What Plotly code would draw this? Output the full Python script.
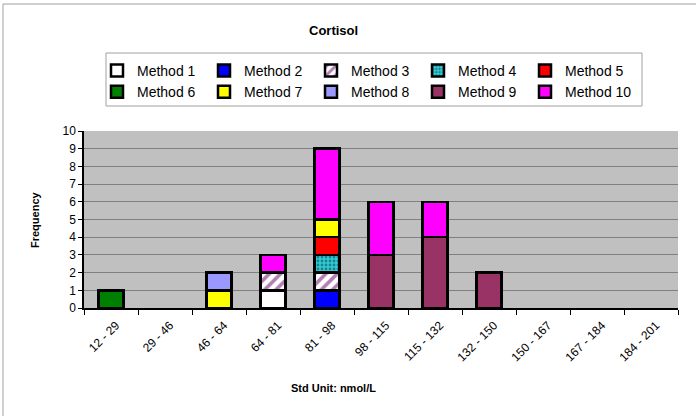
import plotly.graph_objects as go

categories = ["12 - 29", "29 - 46", "46 - 64", "64 - 81", "81 - 98", "98 - 115",
              "115 - 132", "132 - 150", "150 - 167", "167 - 184", "184 - 201"]

method_names = ["Method 1", "Method 2", "Method 3", "Method 4", "Method 5",
                "Method 6", "Method 7", "Method 8", "Method 9", "Method 10"]

m1 = [None, None, None, 1, None, None, None, None, None, None, None]
m2 = [None, None, None, None, 1, None, None, None, None, None, None]
m3 = [None, None, None, 1, 1, None, None, None, None, None, None]
m4 = [None, None, None, None, 1, None, None, None, None, None, None]
m5 = [None, None, None, None, 1, None, None, None, None, None, None]
m6 = [1, None, None, None, None, None, None, None, None, None, None]
m7 = [None, None, 1, None, 1, None, None, None, None, None, None]
m8 = [None, None, 1, None, None, None, None, None, None, None, None]
m9 = [None, None, None, None, None, 3, 4, 2, None, None, None]
m10 = [None, None, None, 1, 4, 3, 2, None, None, None, None]

series = [m1, m2, m3, m4, m5, m6, m7, m8, m9, m10]

colors = ["#FFFFFF", "#0000FF", "#FFFFFF", "#33CCCC", "#FF0000",
          "#008000", "#FFFF00", "#9999FF", "#993366", "#FF00FF"]

patterns = [None, None, dict(shape="/", fgcolor="#660066", bgcolor="#FFFFFF", size=8, solidity=0.45),
            dict(shape=".", fgcolor="#003366", bgcolor="#33CCCC", size=4, solidity=0.4),
            None, None, None, None, None, None]

FONT = "Liberation Sans, Arial, sans-serif"

fig = go.Figure()
for name, vals, col, pat in zip(method_names, series, colors, patterns):
    marker = dict(color=col, line=dict(color="#000000", width=2.5))
    if pat is not None:
        marker["pattern"] = pat
    fig.add_trace(go.Bar(x=categories, y=vals, name=name, marker=marker))

L, R, T, B = 84, 18, 131, 108
W, H = 696, 416
pw, ph = W - L - R, H - T - B


def px(x):
    return (x - L) / pw


def py(y):
    return (H - B - y) / ph


fig.update_layout(
    width=W, height=H,
    margin=dict(l=L, r=R, t=T, b=B, pad=0),
    barmode="stack",
    bargap=0.54,
    paper_bgcolor="#FFFFFF",
    plot_bgcolor="#C0C0C0",
    font=dict(family=FONT, size=11, color="#000000"),
    showlegend=True,
    legend=dict(
        orientation="h",
        xref="container", yref="container",
        x=97 / W, y=1 - 55 / H, xanchor="left", yanchor="top",
        borderwidth=0,
        bgcolor="rgba(0,0,0,0)",
        font=dict(family=FONT, size=14, color="#000000"),
        entrywidth=62, entrywidthmode="pixels",
        itemwidth=30,
        traceorder="normal",
    ),
    annotations=[
        dict(text="<b>Cortisol</b>", x=px(333), y=py(30), xref="paper", yref="paper",
             showarrow=False, font=dict(family=FONT, size=13), xanchor="center", yanchor="middle"),
        dict(text="<b>Std Unit: nmol/L</b>", x=px(333), y=py(388), xref="paper", yref="paper",
             showarrow=False, font=dict(family=FONT, size=11), xanchor="center", yanchor="middle"),
        dict(text="<b>Frequency</b>", x=px(35), y=py(220), xref="paper", yref="paper",
             showarrow=False, textangle=-90, font=dict(family=FONT, size=11),
             xanchor="center", yanchor="middle"),
    ],
    shapes=[
        dict(type="rect", xref="paper", yref="paper",
             x0=px(3), x1=px(720), y0=py(440), y1=py(4),
             line=dict(color="#A0A0A0", width=1), fillcolor="rgba(0,0,0,0)", layer="below"),
        dict(type="rect", xref="paper", yref="paper",
             x0=px(106), x1=px(642), y0=py(106), y1=py(53),
             line=dict(color="#A0A0A0", width=1), fillcolor="rgba(0,0,0,0)", layer="below"),
    ],
)

fig.update_xaxes(
    type="category",
    categoryorder="array", categoryarray=categories,
    tickangle=-45,
    tickson="boundaries",
    ticks="outside", ticklen=5, tickcolor="#000000",
    ticklabelstandoff=4,
    ticklabelshift=5,
    showgrid=False,
    showline=True, linecolor="#000000", linewidth=1.5,
    tickfont=dict(family=FONT, size=12),
    range=[-0.5, 10.5],
)

fig.update_yaxes(
    range=[0, 10],
    dtick=1,
    ticks="outside", ticklen=4, tickcolor="#000000",
    showgrid=True, gridcolor="#808080", gridwidth=1,
    showline=True, linecolor="#000000", linewidth=1.5,
    zeroline=False,
    tickfont=dict(family=FONT, size=12),
)

fig.write_html("out.html", config={"displayModeBar": False},
               post_script="document.body.style.margin='0px';")
